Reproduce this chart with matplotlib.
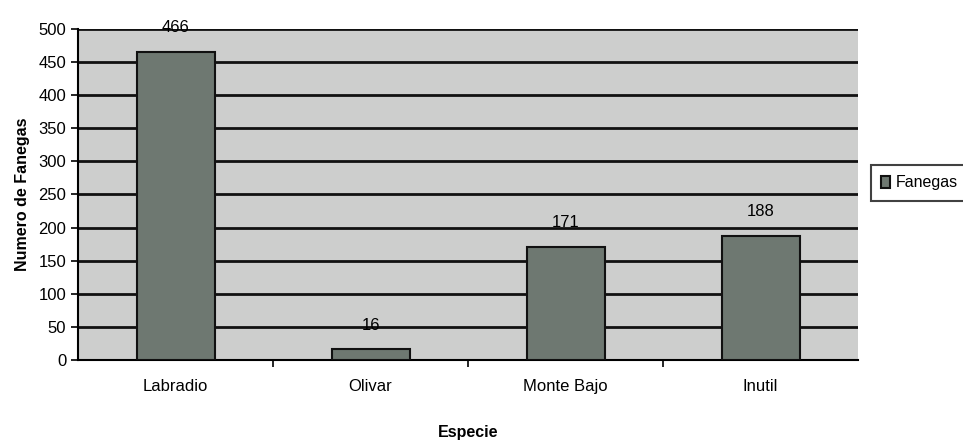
import matplotlib.pyplot as plt
import numpy as np

especies = ['Labradio', 'Olivar', 'Monte Bajo', 'Inutil']
fanegas = [466, 16, 171, 188]
yticks = list(range(0, 501, 50))

plt.rcParams['font.family'] = ['Liberation Sans Narrow', 'Liberation Sans', 'DejaVu Sans']

fig = plt.figure(figsize=(9.63, 4.4), dpi=100)
ax = fig.add_axes([0.081, 0.182, 0.81, 0.752])
ax.set_facecolor('#cdcecd')

x = np.arange(len(especies))
bars = ax.bar(x, fanegas, width=0.4, color='#6e7871', edgecolor='#111111',
              linewidth=1.5, label='Fanegas', zorder=3)
for b, v in zip(bars, fanegas):
    ax.annotate(str(v), (b.get_x() + b.get_width() / 2, v), xytext=(0, 12),
                textcoords='offset points', ha='center', va='bottom', fontsize=12)

ax.set_ylim(0, 500)
ax.set_xlim(-0.5, 3.5)
ax.set_yticks(yticks)
ax.tick_params(axis='y', labelsize=12, length=5, width=1.2, direction='out')
ax.set_xticks(np.arange(0.5, 3, 1), minor=False)
ax.set_xticklabels([])
ax.set_xticks(x, minor=True)
ax.set_xticklabels(especies, minor=True)
ax.tick_params(axis='x', which='minor', length=0, labelsize=12, pad=14)
ax.tick_params(axis='x', which='major', length=5, width=1.2)
ax.yaxis.grid(True, color='#111111', linewidth=2, zorder=1)
ax.set_axisbelow(True)
for s in ['top', 'right']:
    ax.spines[s].set_visible(False)
ax.spines['left'].set_linewidth(1.5)
ax.spines['bottom'].set_linewidth(1.5)

ax.set_ylabel('Numero de Fanegas', fontsize=11.5, fontweight='bold',
              family=['Liberation Sans', 'DejaVu Sans'], labelpad=6)
ax.set_xlabel('Especie', fontsize=11.5, fontweight='bold',
              family=['Liberation Sans', 'DejaVu Sans'], labelpad=22)

leg = ax.legend(loc='center left', bbox_to_anchor=(1.016, 0.535), fontsize=11.5,
                frameon=True, fancybox=False, edgecolor='#111111',
                handlelength=0.55, handleheight=0.75, handletextpad=0.35,
                borderpad=0.65, borderaxespad=0)
leg.get_frame().set_linewidth(1.5)

fig.savefig('out.png', dpi=100)
